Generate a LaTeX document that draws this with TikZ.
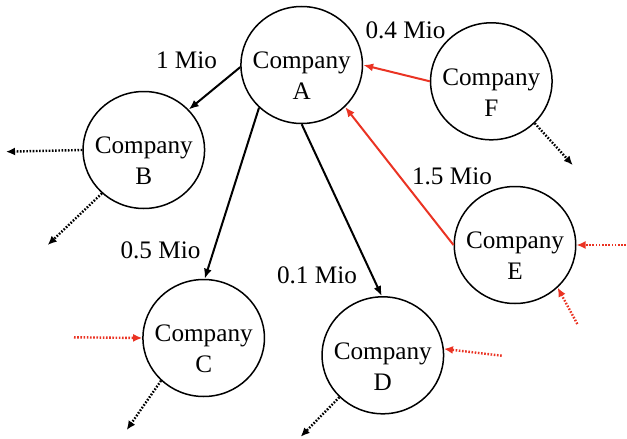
\documentclass[tikz,border=0pt]{standalone}
\usepackage{fontspec}
\setmainfont{Liberation Serif}
\usetikzlibrary{shapes.geometric,arrows.meta}
\definecolor{flowred}{RGB}{234,51,35}
\tikzset{
  company/.style={ellipse,draw=black,line width=1.5pt,inner sep=0pt,minimum width=121.5pt,minimum height=117pt},
  ctext/.style={align=center,inner sep=0pt,font=\fontsize{25.2}{31}\selectfont},
  amount/.style={inner sep=0pt,font=\fontsize{25.2}{29}\selectfont},
  flow/.style={line width=2pt,-{Latex[length=10pt,width=8pt]}},
  redflow/.style={flow,draw=flowred},
  dotflow/.style={line width=2.4pt,dash pattern=on 1.6pt off 1.6pt,-{Latex[length=9pt,width=8pt]}},
  reddot/.style={dotflow,draw=flowred}
}
\begin{document}
\begin{tikzpicture}[x=1pt,y=-1pt]
\useasboundingbox (0,0) rectangle (627,439);
% companies
\node[company] (A) at (301.7,65) {};
\node[company] (B) at (143.8,150) {};
\node[company] (C) at (203.7,338) {};
\node[company] (D) at (382.8,355.3) {};
\node[company] (E) at (515,245) {};
\node[company] (F) at (491.3,81.3) {};
\node[ctext] (At) at ([yshift=-11pt]A.center) {Company\\A};
\node[ctext] (Bt) at ([yshift=-11pt]B.center) {Company\\B};
\node[ctext] (Ct) at ([yshift=-11pt]C.center) {Company\\C};
\node[ctext] (Dt) at ([yshift=-11pt]D.center) {Company\\D};
\node[ctext] (Et) at ([yshift=-11pt]E.center) {Company\\E};
\node[ctext] (Ft) at ([yshift=-11pt]F.center) {Company\\F};
% amounts
\node[amount] (l1) at (186.5,60) {1 Mio};
\node[amount] (l2) at (405.5,30.3) {0.4 Mio};
\node[amount] (l3) at (452,176) {1.5 Mio};
\node[amount] (l4) at (160.5,250) {0.5 Mio};
\node[amount] (l5) at (317,275.7) {0.1 Mio};
% free ends
\coordinate (bL) at (6,151.7);
\coordinate (bD) at (47.7,245);
\coordinate (cIn) at (74,337.3);
\coordinate (cOut) at (126.7,430);
\coordinate (dIn) at (501.7,355.7);
\coordinate (dOut) at (300.7,436.7);
\coordinate (eR) at (626,245);
\coordinate (eB) at (577.3,324);
\coordinate (fOut) at (572.7,165);
% main flows
\draw[flow] (A.182) -- (B.42);
\draw[flow] (A.225) -- (C.89);
\draw[flow] (A.270) -- (D.91);
\draw[redflow] (F.180) -- (A.0);
\draw[redflow] (E.180) -- (A.316);
% dotted flows
\draw[dotflow] (B.180) -- (bL);
\draw[dotflow] (B.226) -- (bD);
\draw[reddot] (cIn) -- (C.180);
\draw[dotflow] (C.225) -- (cOut);
\draw[reddot] (dIn) -- (D.6.5);
\draw[dotflow] (D.224.5) -- (dOut);
\draw[reddot] (eR) -- (E.0);
\draw[reddot] (eB) -- (E.315.7);
\draw[dotflow] (F.316) -- (fOut);
\end{tikzpicture}
\end{document}
